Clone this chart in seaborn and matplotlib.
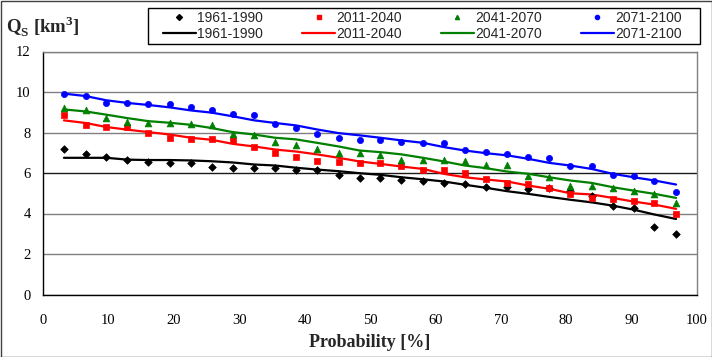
import matplotlib
matplotlib.use("Agg")
import matplotlib.pyplot as plt
import seaborn as sns
import pandas as pd
from matplotlib.lines import Line2D
from matplotlib.patches import Rectangle

# ---- data ----
probability = [3.2, 6.5, 9.7, 12.9, 16.1, 19.4, 22.6, 25.8, 29.0, 32.3,
               35.5, 38.7, 41.9, 45.2, 48.4, 51.6, 54.8, 58.1, 61.3, 64.5,
               67.7, 71.0, 74.2, 77.4, 80.6, 83.9, 87.1, 90.3, 93.5, 96.8]

periods = ["1961-1990", "2011-2040", "2041-2070", "2071-2100"]

obs_1961 = [7.20, 6.95, 6.78, 6.62, 6.53, 6.47, 6.47, 6.32, 6.26, 6.26,
            6.26, 6.16, 6.16, 5.91, 5.76, 5.74, 5.66, 5.59, 5.50, 5.47,
            5.30, 5.30, 5.22, 5.25, 5.13, 4.87, 4.39, 4.28, 3.35, 2.99]
obs_2011 = [8.88, 8.39, 8.25, 8.25, 8.00, 7.74, 7.69, 7.69, 7.61, 7.28,
            7.00, 6.78, 6.58, 6.53, 6.49, 6.47, 6.37, 6.16, 6.16, 6.02,
            5.68, 5.53, 5.47, 5.27, 4.97, 4.77, 4.74, 4.64, 4.54, 3.98]
obs_2041 = [9.19, 9.09, 8.71, 8.51, 8.47, 8.47, 8.42, 8.38, 7.94, 7.86,
            7.51, 7.40, 7.18, 7.00, 6.98, 6.87, 6.62, 6.62, 6.62, 6.57,
            6.40, 6.40, 5.84, 5.79, 5.35, 5.37, 5.25, 5.13, 4.94, 4.50]
obs_2071 = [9.92, 9.82, 9.46, 9.46, 9.41, 9.39, 9.26, 9.09, 8.90, 8.85,
            8.43, 8.22, 7.92, 7.71, 7.61, 7.61, 7.51, 7.49, 7.46, 7.15,
            7.03, 6.95, 6.78, 6.73, 6.37, 6.34, 5.89, 5.86, 5.61, 5.05]

fit_1961 = [6.75, 6.75, 6.75, 6.66, 6.64, 6.64, 6.62, 6.58, 6.52, 6.42,
            6.37, 6.26, 6.17, 6.09, 5.99, 5.91, 5.79, 5.69, 5.58, 5.42,
            5.27, 5.10, 4.97, 4.82, 4.68, 4.55, 4.39, 4.19, 3.95, 3.73]
fit_2011 = [8.60, 8.47, 8.27, 8.14, 8.02, 7.90, 7.74, 7.64, 7.44, 7.31,
            7.16, 7.06, 6.92, 6.75, 6.57, 6.45, 6.32, 6.20, 5.96, 5.79,
            5.68, 5.58, 5.38, 5.22, 5.00, 4.94, 4.77, 4.59, 4.44, 4.23]
fit_2041 = [9.14, 9.04, 8.88, 8.71, 8.56, 8.48, 8.38, 8.22, 8.02, 7.90,
            7.74, 7.66, 7.49, 7.31, 7.11, 7.03, 6.92, 6.75, 6.57, 6.37,
            6.24, 6.07, 5.96, 5.79, 5.63, 5.51, 5.30, 5.13, 4.97, 4.77]
fit_2071 = [9.92, 9.80, 9.59, 9.46, 9.36, 9.24, 9.09, 8.98, 8.80, 8.60,
            8.47, 8.35, 8.15, 7.97, 7.86, 7.74, 7.61, 7.49, 7.28, 7.11,
            6.98, 6.87, 6.70, 6.50, 6.37, 6.20, 5.96, 5.79, 5.63, 5.43]

x_ticks = [0, 10, 20, 30, 40, 50, 60, 70, 80, 90, 100]
y_ticks = [0, 2, 4, 6, 8, 10, 12]

observed = [obs_1961, obs_2011, obs_2041, obs_2071]
fitted = [fit_1961, fit_2011, fit_2041, fit_2071]
colors = ["#000000", "#ff0000", "#008000", "#0000ff"]
markers = ["D", "s", "^", "o"]
msizes = [15, 19, 24, 20]

# ---- style ----
sns.set_style("white")
plt.rcParams["font.family"] = ["Liberation Serif", "DejaVu Serif"]
plt.rcParams["mathtext.fontset"] = "custom"
plt.rcParams["mathtext.rm"] = "Liberation Serif:bold"
plt.rcParams["mathtext.bf"] = "Liberation Serif:bold"

W, H = 712, 357
fig = plt.figure(figsize=(W / 100, H / 100), dpi=100)
ax = fig.add_axes([43 / W, 1 - 294.5 / H, (697 - 43) / W, (294.5 - 51.5) / H])

rows = []
for p, obs, fit in zip(periods, observed, fitted):
    for x, o, f in zip(probability, obs, fit):
        rows.append({"period": p, "prob": x, "obs": o, "fit": f})
df = pd.DataFrame(rows)

for p, c, m, s in zip(periods, colors, markers, msizes):
    d = df[df["period"] == p]
    sns.lineplot(data=d, x="prob", y="fit", color=c, linewidth=1.6, ax=ax,
                 legend=False, zorder=3)
    sns.scatterplot(data=d, x="prob", y="obs", color=c, marker=m, s=s,
                    edgecolor=c, linewidth=0.5, ax=ax, legend=False, zorder=4)

ax.set_xlim(0, 100)
ax.set_ylim(0, 12)
ax.set_xticks(x_ticks)
ax.set_yticks(y_ticks)
ax.tick_params(axis="both", direction="out", length=4, width=0.8,
               colors="black", labelsize=10.5)
ax.tick_params(axis="y", pad=5)
ax.tick_params(axis="x", pad=10)
ax.yaxis.grid(True, color="#808080", linewidth=1.0)
ax.xaxis.grid(False)
ax.set_axisbelow(True)
for gl, val in zip(ax.get_ygridlines(), y_ticks):
    if val == 6:
        gl.set_color("#1a1a1a")
for side in ["top", "right"]:
    ax.spines[side].set_color("#808080")
    ax.spines[side].set_linewidth(1.0)
for side in ["left", "bottom"]:
    ax.spines[side].set_color("black")
    ax.spines[side].set_linewidth(1.0)
ax.set_xlabel("Probability [%]", fontsize=13, fontweight="bold", labelpad=5)
ax.set_ylabel("")

fig.text(6 / W, 1 - 27 / H, r"Q$_\mathrm{S}$ [km$^\mathrm{3}$]", fontsize=13.5,
         fontweight="bold", ha="left", va="center")

# legend: row 1 markers, row 2 lines
handles, labels = [], []
for p, c, m in zip(periods, colors, markers):
    handles.append(Line2D([], [], linestyle="none", marker=m, color=c,
                          markersize=3.0))
    labels.append(p)
    handles.append(Line2D([], [], color=c, linewidth=1.6))
    labels.append(p)
leg = fig.legend(handles, labels, ncol=4, loc="upper left",
                 bbox_to_anchor=(163 / W, 1 - 11 / H), borderaxespad=0,
                 frameon=False, handlelength=2.37, handletextpad=0.1,
                 columnspacing=2.8, labelspacing=0.15, borderpad=0,
                 prop={"family": "Liberation Sans", "size": 10})

fig.patches.append(Rectangle((148 / W, 1 - 44 / H), (700 - 148) / W, 36 / H,
                             transform=fig.transFigure, fill=False,
                             edgecolor="black", linewidth=1.0))
fig.patches.append(Rectangle((0.5 / W, 0.5 / H), 1 - 1 / W, 1 - 1 / H,
                             transform=fig.transFigure, fill=False,
                             edgecolor="#404040", linewidth=1.0))

fig.savefig("out.png", dpi=100)
